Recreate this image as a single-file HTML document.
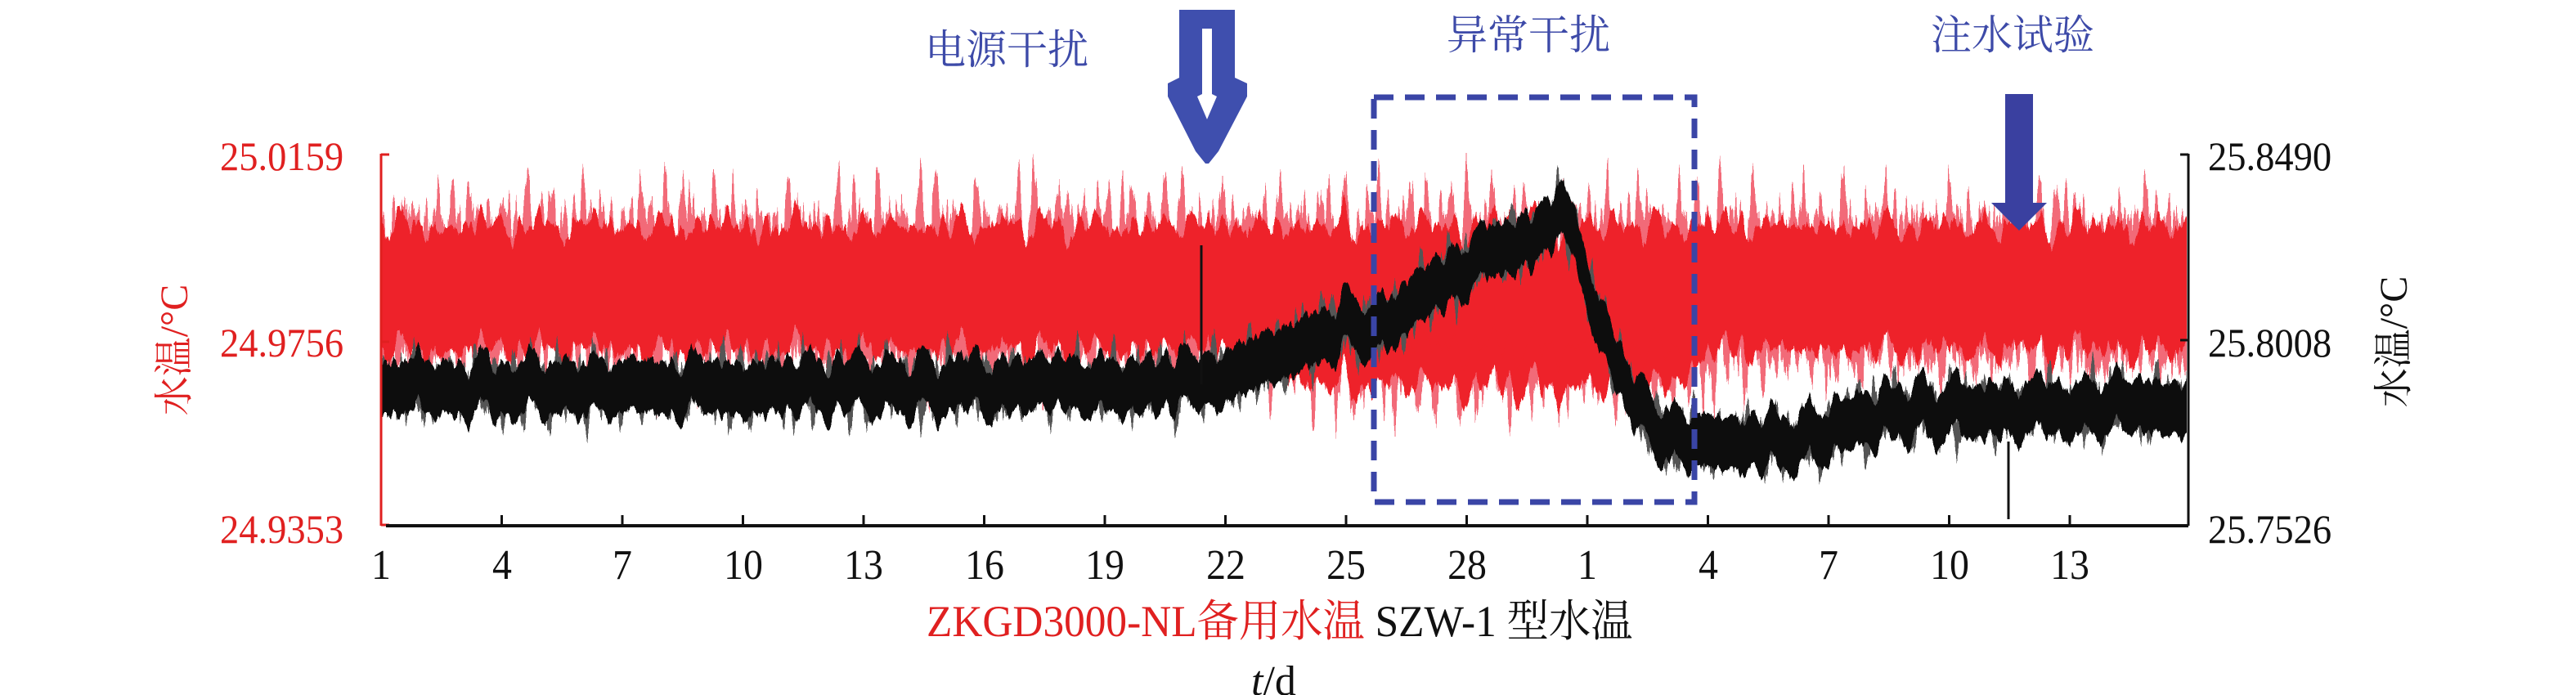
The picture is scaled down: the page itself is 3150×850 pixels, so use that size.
<!DOCTYPE html>
<html><head><meta charset="utf-8"><style>
html,body{margin:0;padding:0;background:#fff;}
#w{position:relative;width:3150px;height:850px;overflow:hidden;font-family:"Liberation Serif","Noto Serif CJK SC",serif;}
.t{position:absolute;white-space:nowrap;line-height:1;}
.x{position:absolute;top:666px;font-size:52px;color:#111;white-space:nowrap;line-height:1;transform:translateX(-50%) scaleX(0.92);}
svg{position:absolute;left:0;top:0;}
</style></head><body><div id="w">
<svg width="3150" height="850">
 <defs>
  <filter id="f1" filterUnits="userSpaceOnUse" x="0" y="0" width="3150" height="850">
   <feTurbulence type="fractalNoise" baseFrequency="0.06 0" numOctaves="5" seed="3" result="n"/>
   <feColorMatrix in="n" type="matrix" values="0 0 0 0 0.5  0 1 0 0 0  0 0 1 0 0  0 0 0 0 1" result="m"/>
   <feDisplacementMap in="SourceGraphic" in2="m" scale="110" xChannelSelector="R" yChannelSelector="G"/>
  </filter>
  <filter id="f2" filterUnits="userSpaceOnUse" x="0" y="0" width="3150" height="850">
   <feTurbulence type="fractalNoise" baseFrequency="0.1 0" numOctaves="4" seed="11" result="n"/>
   <feColorMatrix in="n" type="matrix" values="0 0 0 0 0.5  0 1 0 0 0  0 0 1 0 0  0 0 0 0 1" result="m"/>
   <feDisplacementMap in="SourceGraphic" in2="m" scale="230" xChannelSelector="R" yChannelSelector="G"/>
  </filter>
  <filter id="f3" filterUnits="userSpaceOnUse" x="0" y="0" width="3150" height="850">
   <feTurbulence type="fractalNoise" baseFrequency="0.05 0" numOctaves="5" seed="7" result="n"/>
   <feColorMatrix in="n" type="matrix" values="0 0 0 0 0.5  0 1 0 0 0  0 0 1 0 0  0 0 0 0 1" result="m"/>
   <feDisplacementMap in="SourceGraphic" in2="m" scale="80" xChannelSelector="R" yChannelSelector="G"/>
  </filter>
  <filter id="f4" filterUnits="userSpaceOnUse" x="0" y="0" width="3150" height="850">
   <feTurbulence type="fractalNoise" baseFrequency="0.09 0" numOctaves="4" seed="21" result="n"/>
   <feColorMatrix in="n" type="matrix" values="0 0 0 0 0.5  0 1 0 0 0  0 0 1 0 0  0 0 0 0 1" result="m"/>
   <feDisplacementMap in="SourceGraphic" in2="m" scale="150" xChannelSelector="R" yChannelSelector="G"/>
  </filter>
  <clipPath id="cp"><rect x="467" y="150" width="2207" height="492"/></clipPath>
 </defs>
 <g clip-path="url(#cp)">
  <g filter="url(#f2)"><rect x="467" y="262" width="2207" height="180" fill="#f26a78"/><polygon points="1480,440 1650,470 2060,470 2120,440" fill="#f26a78"/></g>
  <g filter="url(#f1)"><rect x="467" y="276" width="2207" height="152" fill="#ee2229"/><polygon points="1480,420 1600,470 2030,475 2110,425" fill="#ee2229"/></g>
  <g filter="url(#f4)"><polygon fill="#555" points="467,450 1450,445 1560,415 1640,370 1690,380 1750,325 1830,280 1900,253 1912,220 1935,305 1960,375 2000,475 2050,515 2200,515 2300,480 2674,470 2674,520 2300,530 2200,565 2050,565 2000,525 1960,425 1935,355 1912,270 1900,303 1830,330 1750,375 1690,430 1640,420 1560,465 1450,495 467,500"/></g>
  <g filter="url(#f3)"><polygon fill="#111" points="467,443 1450,438 1560,408 1640,363 1690,373 1750,318 1830,273 1900,246 1912,213 1935,298 1960,368 2000,468 2050,508 2200,508 2300,473 2674,463 2674,527 2300,537 2200,572 2050,572 2000,532 1960,432 1935,362 1912,277 1900,310 1830,337 1750,382 1690,437 1640,427 1560,472 1450,502 467,507"/></g>
  <path d="M1469,300V470M2456,540V635" stroke="#111" stroke-width="3"/>
 </g>
 <line x1="466" y1="188" x2="466" y2="643" stroke="#e02020" stroke-width="3"/>
 <line x1="466" y1="189" x2="476" y2="189" stroke="#e02020" stroke-width="3"/>
 <line x1="466" y1="418" x2="476" y2="418" stroke="#e02020" stroke-width="3"/>
 <line x1="466" y1="642" x2="476" y2="642" stroke="#e02020" stroke-width="3"/>
 <line x1="472" y1="643" x2="2676" y2="643" stroke="#111" stroke-width="4"/>
 <line x1="2676" y1="188" x2="2676" y2="643" stroke="#111" stroke-width="3"/>
 <line x1="2666" y1="189" x2="2676" y2="189" stroke="#111" stroke-width="3"/>
 <line x1="2666" y1="416" x2="2676" y2="416" stroke="#111" stroke-width="3"/>
 <path stroke="#111" stroke-width="3" d="M613.5,630V643M761,630V643M908.5,630V643M1056,630V643M1203.5,630V643M1351,630V643M1498.5,630V643M1646,630V643M1793.5,630V643M1941,630V643M2088.5,630V643M2236,630V643M2383.5,630V643M2531,630V643"/>
 <rect x="1680" y="119" width="392" height="495" fill="none" stroke="#3a45a6" stroke-width="7" stroke-dasharray="24,14"/>
 <path d="M1442,12 L1510,12 L1510,95 L1525,102 L1525,118 L1490,185 L1478,200 L1474,200 L1462,185 L1428,118 L1428,102 L1442,95 Z" fill="#3f4fae"/>
 <path d="M1470,35 L1482,35 L1482,115 L1488,118 L1476,146 L1464,118 L1470,115 Z" fill="#fff"/>
 <path d="M2452,115 L2486,115 L2486,248 L2503,248 L2469,282 L2435,248 L2452,248 Z" fill="#3a40a0"/>
</svg>
<div class="t" style="left:269px;top:166px;font-size:50px;color:#e02020;transform:scaleX(0.93);transform-origin:left">25.0159</div>
<div class="t" style="left:269px;top:394px;font-size:50px;color:#e02020;transform:scaleX(0.93);transform-origin:left">24.9756</div>
<div class="t" style="left:269px;top:622px;font-size:50px;color:#e02020;transform:scaleX(0.93);transform-origin:left">24.9353</div>
<div class="t" style="left:2700px;top:166px;font-size:50px;color:#111;transform:scaleX(0.93);transform-origin:left">25.8490</div>
<div class="t" style="left:2700px;top:394px;font-size:50px;color:#111;transform:scaleX(0.93);transform-origin:left">25.8008</div>
<div class="t" style="left:2700px;top:622px;font-size:50px;color:#111;transform:scaleX(0.93);transform-origin:left">25.7526</div>
<div class="t" style="left:214px;top:428px;font-size:48px;color:#e02020;transform:translate(-50%,-50%) rotate(-90deg)">水温/°C</div>
<div class="t" style="left:2928px;top:418px;font-size:48px;color:#111;transform:translate(-50%,-50%) rotate(-90deg)">水温/°C</div>
<div class="x" style="left:466px">1</div><div class="x" style="left:613.5px">4</div><div class="x" style="left:761px">7</div><div class="x" style="left:908.5px">10</div><div class="x" style="left:1056px">13</div><div class="x" style="left:1203.5px">16</div><div class="x" style="left:1351px">19</div><div class="x" style="left:1498.5px">22</div><div class="x" style="left:1646px">25</div><div class="x" style="left:1793.5px">28</div><div class="x" style="left:1941px">1</div><div class="x" style="left:2088.5px">4</div><div class="x" style="left:2236px">7</div><div class="x" style="left:2383.5px">10</div><div class="x" style="left:2531px">13</div>
<div class="t" style="left:1133px;top:733px;font-size:54px;color:#e02020;transform:scaleX(0.95);transform-origin:left">ZKGD3000-NL备用水温 <span style="color:#111">SZW-1 型水温</span></div>
<div class="t" style="left:1530px;top:808px;font-size:52px;color:#111"><i>t</i>/d</div>
<div class="t" style="left:1131px;top:36px;font-size:50px;color:#3d4aa8">电源干扰</div>
<div class="t" style="left:1769px;top:18px;font-size:50px;color:#3d4aa8">异常干扰</div>
<div class="t" style="left:2361px;top:18px;font-size:50px;color:#3d4aa8">注水试验</div>
</div>
</body></html>
